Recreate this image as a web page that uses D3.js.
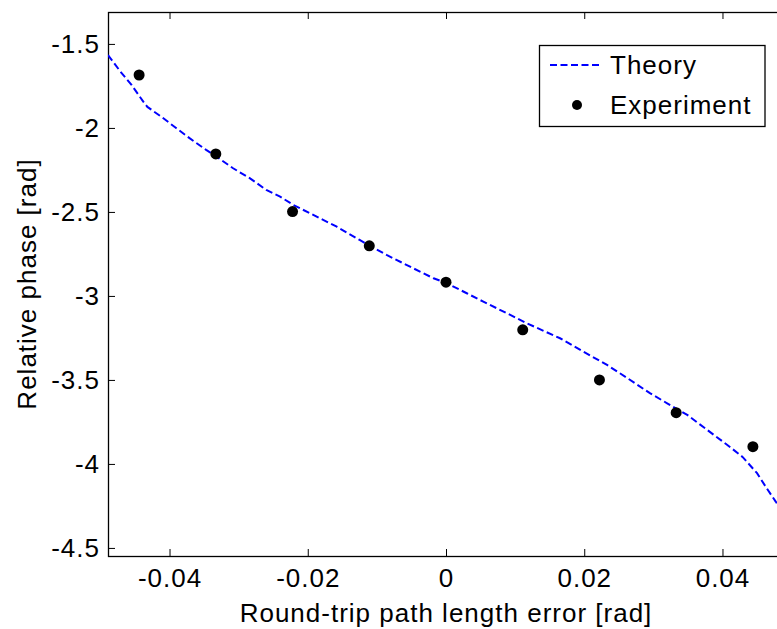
<!DOCTYPE html>
<html lang="en">
<head>
<meta charset="UTF-8">
<title>Relative phase vs round-trip path length error</title>
<script src="https://d3js.org/d3.v7.min.js"></script>
<style>
    body, html {
        margin: 0;
        padding: 0;
        background: #fff;
        overflow: hidden;
    }
    svg text {
        font-family: 'Liberation Sans', Arial, sans-serif;
        fill: #000;
    }
</style>
</head>
<body>
<svg id="chart"></svg>
<script>
    // experiment points
    const expX = [-0.0444, -0.0333, -0.0222, -0.0111, 0, 0.0111, 0.0222, 0.0333, 0.0444];
    const expY = [-1.685, -2.155, -2.498, -2.702, -2.918, -3.202, -3.50, -3.695, -3.897];

    // theory curve
    const theoryX = [-0.0489, -0.0471, -0.0455, -0.0438, -0.0432, -0.0412, -0.0390, -0.0371, -0.0347,
        -0.0332, -0.0308, -0.0284, -0.0260, -0.0240, -0.0221, -0.0192, -0.0158, -0.0125, -0.0086,
        -0.0052, -0.0018, 0.0001, 0.0030, 0.0054, 0.0088, 0.0117, 0.0165, 0.0199, 0.0233, 0.0262,
        0.0295, 0.0320, 0.0349, 0.0378, 0.0407, 0.0429, 0.0450, 0.0464, 0.0477, 0.0489];
    const theoryY = [-1.566, -1.665, -1.744, -1.843, -1.875, -1.933, -2.002, -2.061, -2.131,
        -2.171, -2.240, -2.299, -2.369, -2.409, -2.458, -2.518, -2.588, -2.667, -2.756,
        -2.826, -2.895, -2.924, -2.984, -3.034, -3.103, -3.163, -3.252, -3.332, -3.411, -3.488,
        -3.579, -3.639, -3.708, -3.798, -3.887, -3.958, -4.055, -4.145, -4.224, -4.304];

    const xTicks = [-0.04, -0.02, 0, 0.02, 0.04];
    const yTicks = [-1.5, -2, -2.5, -3, -3.5, -4, -4.5];
    const legendLabels = ["Theory", "Experiment"];

    const W = 777, H = 629;
    const margin = { top: 12, left: 108, right: 784, bottom: 556 };

    const svg = d3.select("#chart")
        .attr("width", W)
        .attr("height", H);

    const x = d3.scaleLinear().domain([-0.0489, 0.0489]).range([margin.left, margin.right]);
    const y = d3.scaleLinear().domain([-1.31, -4.548]).range([margin.top, margin.bottom]);

    const fontSize = "26px";

    // bottom axis
    const xAxis = svg.append("g")
        .attr("transform", `translate(0,${margin.bottom})`)
        .call(d3.axisBottom(x).tickValues(xTicks).tickSizeInner(-7).tickSizeOuter(0)
            .tickPadding(12.5).tickFormat(d => d === 0 ? "0" : String(d)));
    xAxis.select(".domain").remove();
    xAxis.selectAll("line").attr("stroke", "#000");
    xAxis.selectAll("text").style("font-size", fontSize).attr("letter-spacing", "1px");

    // top axis (ticks only)
    const xTop = svg.append("g")
        .attr("transform", `translate(0,${margin.top})`)
        .call(d3.axisTop(x).tickValues(xTicks).tickSizeInner(-7).tickSizeOuter(0).tickFormat(""));
    xTop.select(".domain").remove();
    xTop.selectAll("line").attr("stroke", "#000");

    // left axis
    const yAxis = svg.append("g")
        .attr("transform", `translate(${margin.left},0)`)
        .call(d3.axisLeft(y).tickValues(yTicks).tickSizeInner(-7).tickSizeOuter(0)
            .tickPadding(8).tickFormat(d => String(d)));
    yAxis.select(".domain").remove();
    yAxis.selectAll("line").attr("stroke", "#000");
    yAxis.selectAll("text").style("font-size", fontSize).attr("letter-spacing", "1px");

    // box
    svg.append("rect")
        .attr("x", margin.left + 0.5)
        .attr("y", margin.top + 0.5)
        .attr("width", margin.right - margin.left)
        .attr("height", margin.bottom - margin.top)
        .attr("fill", "none")
        .attr("stroke", "#000")
        .attr("stroke-width", 1.3);

    // clip
    svg.append("clipPath").attr("id", "plotclip")
        .append("rect")
        .attr("x", margin.left).attr("y", margin.top)
        .attr("width", margin.right - margin.left).attr("height", margin.bottom - margin.top);

    const theory = theoryX.map((d, i) => [d, theoryY[i]]);
    const line = d3.line().x(d => x(d[0])).y(d => y(d[1]));

    svg.append("path")
        .datum(theory)
        .attr("clip-path", "url(#plotclip)")
        .attr("d", line)
        .attr("fill", "none")
        .attr("stroke", "#0000ff")
        .attr("stroke-width", 2)
        .attr("stroke-dasharray", "7,3.5");

    svg.selectAll(".pt")
        .data(expX.map((d, i) => [d, expY[i]]))
        .enter().append("circle")
        .attr("class", "pt")
        .attr("cx", d => x(d[0]))
        .attr("cy", d => y(d[1]))
        .attr("r", 5.5)
        .attr("fill", "#000");

    // axis titles
    svg.append("text")
        .attr("x", 446)
        .attr("y", 622)
        .attr("text-anchor", "middle")
        .attr("letter-spacing", "1px")
        .style("font-size", fontSize)
        .text("Round-trip path length error [rad]");

    svg.append("text")
        .attr("transform", "translate(36,284) rotate(-90)")
        .attr("text-anchor", "middle")
        .attr("letter-spacing", "1px")
        .style("font-size", fontSize)
        .text("Relative phase [rad]");

    // legend
    const lg = svg.append("g");
    lg.append("rect")
        .attr("x", 539.5).attr("y", 45.5)
        .attr("width", 225.5).attr("height", 81)
        .attr("fill", "#fff")
        .attr("stroke", "#000")
        .attr("stroke-width", 1.3);
    lg.append("line")
        .attr("x1", 550).attr("x2", 602)
        .attr("y1", 65).attr("y2", 65)
        .attr("stroke", "#0000ff")
        .attr("stroke-width", 2)
        .attr("stroke-dasharray", "7,3.5");
    lg.append("circle")
        .attr("cx", 577).attr("cy", 105).attr("r", 5)
        .attr("fill", "#000");
    lg.selectAll(".lt")
        .data(legendLabels)
        .enter().append("text")
        .attr("class", "lt")
        .attr("x", 610)
        .attr("y", (d, i) => 74 + i * 40)
        .attr("letter-spacing", "1px")
        .style("font-size", fontSize)
        .text(d => d);
</script>
</body>
</html>
